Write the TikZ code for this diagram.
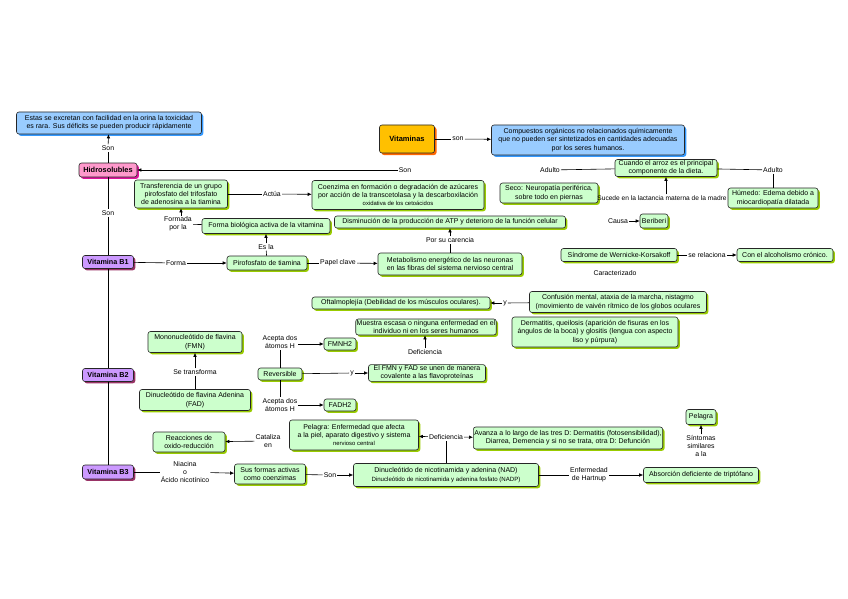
\documentclass[tikz,border=0pt]{standalone}
\usepackage{fontspec}
\setmainfont{Liberation Sans}
\usetikzlibrary{shadows,arrows.meta}
\definecolor{gfill}{HTML}{CCFFCC}
\definecolor{gshad}{HTML}{99CC00}
\definecolor{bfill}{HTML}{99CCFF}
\definecolor{bshad}{HTML}{3399FF}
\definecolor{ofill}{HTML}{FFC000}
\definecolor{oshad}{HTML}{FF6600}
\definecolor{pfill}{HTML}{FF99CC}
\definecolor{pshad}{HTML}{E0119D}
\definecolor{vfill}{HTML}{CC99FF}
\definecolor{vshad}{HTML}{993366}
\begin{document}
\begin{tikzpicture}[x=1pt,y=-1pt,
 box/.style={draw=black!85,line width=0.6pt,rounded corners=2.5pt,align=center,inner sep=1pt,font=\fontsize{7}{8.3}\selectfont},
 gbox/.style={box,fill=gfill,drop shadow={shadow xshift=1.8pt,shadow yshift=-1.8pt,fill=gshad,opacity=1}},
 bbox/.style={box,fill=bfill,drop shadow={shadow xshift=1.8pt,shadow yshift=-1.8pt,fill=bshad,opacity=1}},
 obox/.style={box,fill=ofill,font=\bfseries\fontsize{7.5}{8.5}\selectfont,drop shadow={shadow xshift=2pt,shadow yshift=-2pt,fill=oshad,opacity=1}},
 pbox/.style={box,fill=pfill,font=\bfseries\fontsize{7.4}{8.5}\selectfont,drop shadow={shadow xshift=1.8pt,shadow yshift=-1.8pt,fill=pshad,opacity=1}},
 vbox/.style={box,fill=vfill,font=\bfseries\fontsize{7.2}{8.5}\selectfont,drop shadow={shadow xshift=1.8pt,shadow yshift=-1.8pt,fill=vshad,opacity=1}},
 lbl/.style={align=center,inner sep=1pt,font=\fontsize{6.9}{7.8}\selectfont},
 arr/.style={-{Latex[length=4pt,width=3.6pt]},line width=0.6pt},
 ln/.style={line width=0.6pt},
]
\useasboundingbox (0,0) rectangle (848,599);

% main nodes
\node[bbox,minimum width=185pt,minimum height=22pt] (blue1) at (109,123) {Estas se excretan con facilidad en la orina la toxicidad\\es rara. Sus déficits se pueden producir rápidamente};
\node[pbox,minimum width=58pt,minimum height=14pt] (hidro) at (108,170) {Hidrosolubles};
\node[vbox,minimum width=51pt,minimum height=13pt] (b1) at (108,262) {Vitamina B1};
\node[vbox,minimum width=51pt,minimum height=13pt] (b2) at (108,375) {Vitamina B2};
\node[vbox,minimum width=51pt,minimum height=14pt] (b3) at (108,472) {Vitamina B3};
\node[obox,minimum width=55pt,minimum height=28pt] (vit) at (407,139) {Vitaminas};
\node[bbox,minimum width=193pt,minimum height=30pt] (comp) at (588,140) {Compuestos orgánicos no relacionados químicamente\\que no pueden ser sintetizados en cantidades adecuadas\\por los seres humanos.};
\node[gbox,minimum width=93pt,minimum height=28pt] (transf) at (181,194) {Transferencia de un grupo\\pirofosfato del trifosfato\\de adenosina a la tiamina};
\node[gbox,minimum width=172pt,minimum height=29pt] (coenz) at (398,195) {Coenzima en formación o degradación de azúcares\\por acción de la transcetolasa y la descarboxilación\\{\fontsize{5.9}{7}\selectfont oxidativa de los cetoácidos}};
\node[gbox,minimum width=128pt,minimum height=15pt] (forma) at (266,226) {Forma biológica activa de la vitamina};
\node[gbox,minimum width=80pt,minimum height=14pt] (piro) at (267,263) {Pirofosfato de tiamina};
\node[gbox,minimum width=231pt,minimum height=12pt] (dism) at (450,222) {Disminución de la producción de ATP y deterioro de la función celular};
\node[gbox,minimum width=144pt,minimum height=22pt] (metab) at (450,264) {Metabolismo energético de las neuronas\\en las fibras del sistema nervioso central};
\node[gbox,minimum width=98pt,minimum height=20pt] (seco) at (549,193) {Seco: Neuropatía periférica,\\sobre todo en piernas};
\node[gbox,minimum width=102pt,minimum height=17pt] (cuando) at (666,168) {Cuando el arroz es el principal\\componente de la dieta.};
\node[gbox,minimum width=90pt,minimum height=20pt] (humedo) at (773,198) {Húmedo: Edema debido a\\miocardiopatía dilatada};
\node[gbox,minimum width=28pt,minimum height=14pt] (beri) at (654,221) {Beriberi};
\node[gbox,minimum width=116pt,minimum height=13pt] (sindrome) at (619,255) {Síndrome de Wernicke-Korsakoff};
\node[gbox,minimum width=96pt,minimum height=13pt] (alcohol) at (785,255) {Con el alcoholismo crónico.};
\node[gbox,minimum width=178pt,minimum height=12pt] (oftal) at (401,303) {Oftalmoplejía (Debilidad de los músculos oculares).};
\node[gbox,minimum width=177pt,minimum height=21pt] (confusion) at (618,302) {Confusión mental, ataxia de la marcha, nistagmo\\(movimiento de vaivén rítmico de los globos oculares};
\node[gbox,minimum width=166pt,minimum height=30pt] (dermat) at (595,332) {Dermatitis, queilosis (aparición de fisuras en los\\ángulos de la boca) y glositis (lengua con aspecto\\liso y púrpura)};
\node[gbox,minimum width=137pt,minimum height=16pt] (muestra) at (426,327) {Muestra escasa o ninguna enfermedad en el\\individuo ni en los seres humanos};
\node[gbox,minimum width=32pt,minimum height=12pt] (fmnh2) at (340,344) {FMNH2};
\node[gbox,minimum width=32pt,minimum height=12pt] (fadh2) at (340,405) {FADH2};
\node[gbox,minimum width=44pt,minimum height=12pt] (rev) at (280,374) {Reversible};
\node[gbox,minimum width=117pt,minimum height=15pt] (fmnfad) at (427,373) {El FMN y FAD se unen de manera\\covalente a las flavoproteínas};
\node[gbox,minimum width=94pt,minimum height=21pt] (mono) at (195,342) {Mononucleótido de flavina\\(FMN)};
\node[gbox,minimum width=111pt,minimum height=21pt] (dinuc) at (195,400) {Dinucleótido de flavina Adenina\\(FAD)};
\node[gbox,minimum width=72pt,minimum height=20pt] (reac) at (189,442) {Reacciones de\\oxido-reducción};
\node[gbox,minimum width=129pt,minimum height=30pt] (pelagra) at (354,435) {Pelagra: Enfermedad que afecta\\a la piel, aparato digestivo y sistema\\{\fontsize{5.9}{7}\selectfont nervioso central}};
\node[gbox,minimum width=188pt,minimum height=22pt] (avanza) at (568,438) {Avanza a lo largo de las tres D: Dermatitis (fotosensibilidad),\\Diarrea, Demencia y si no se trata, otra D: Defunción};
\node[gbox,minimum width=71pt,minimum height=20pt] (susf) at (270,474) {Sus formas activas\\como coenzimas};
\node[gbox,minimum width=185pt,minimum height=23pt] (nad) at (446,475) {Dinucleótido de nicotinamida y adenina (NAD)\\{\fontsize{6.1}{7.2}\selectfont Dinucleótido de nicotinamida y adenina fosfato (NADP)}};
\node[gbox,minimum width=115pt,minimum height=15pt] (absor) at (701,475) {Absorción deficiente de triptófano};
\node[gbox,minimum width=30pt,minimum height=15pt] (pels) at (701,417) {Pelagra};

% labels
\node[lbl] (son1) at (108,148) {Son};
\node[lbl] (son2) at (108,213) {Son};
\node[lbl] (son3) at (405,170) {Son};
\node[lbl] (sonv) at (458,139) {son};
\node[lbl] (actua) at (272,194) {Actúa};
\node[lbl] (formada) at (178,224) {Formada\\por la};
\node[lbl] (esla) at (266,247) {Es la};
\node[lbl] (formal) at (176,263) {Forma};
\node[lbl] (papel) at (338,263) {Papel clave};
\node[lbl] (porsu) at (450,240) {Por su carencia};
\node[lbl] (adulto1) at (550,170) {Adulto};
\node[lbl] (adulto2) at (773,170) {Adulto};
\node[lbl,font=\fontsize{6.6}{7.6}\selectfont] (sucede) at (662,198) {Sucede en la lactancia materna de la madre};
\node[lbl] (causa) at (618,221) {Causa};
\node[lbl] (serel) at (707,255) {se relaciona};
\node[lbl] (caract) at (615,273) {Caracterizado};
\node[lbl] (y1) at (505,303) {y};
\node[lbl] (defb2) at (425,352) {Deficiencia};
\node[lbl] (acep1) at (280,342) {Acepta dos\\átomos H};
\node[lbl] (acep2) at (280,405) {Acepta dos\\átomos H};
\node[lbl] (y2) at (352,373) {y};
\node[lbl] (sefor) at (195,372) {Se transforma};
\node[lbl] (catal) at (268,441) {Cataliza\\en};
\node[lbl] (niac) at (185,472) {Niacina\\o\\Ácido nicotínico};
\node[lbl] (son4) at (330,475) {Son};
\node[lbl] (defb3) at (446,437) {Deficiencia};
\node[lbl] (hart) at (589,475) {Enfermedad\\de Hartnup};
\node[lbl] (sint) at (701,446) {Síntomas\\similares\\a la};

% connectors
\draw[ln] (hidro) -- (son1);
\draw[arr] (son1) -- (blue1);
\draw[ln] (hidro) -- (son2);
\draw[ln] (son2) -- (b1);
\draw[ln] (b1) -- (b2);
\draw[ln] (b2) -- (b3);
\draw[arr] (son3) -- (hidro);
\draw[ln] (vit) -- (sonv);
\draw[arr] (sonv) -- (comp);
\draw[ln] (transf) -- (actua);
\draw[arr] (actua) -- (coenz);
\draw[arr] (formada.north -| transf.south) -- (transf.south);
\draw[ln] (formada) -- (forma);
\draw[ln] (piro) -- (esla);
\draw[arr] (esla) -- (forma);
\draw[ln] (b1) -- (formal);
\draw[arr] (formal) -- (piro);
\draw[ln] (piro) -- (papel);
\draw[arr] (papel) -- (metab);
\draw[ln] (metab) -- (porsu);
\draw[arr] (porsu) -- (dism);
\draw[ln] (adulto1) -- (cuando);
\draw[ln] (cuando) -- (adulto2);
\draw[ln] (adulto2) -- (humedo);
\draw[arr] (cuando.south |- sucede.north) -- (cuando.south);
\draw[arr] (causa) -- (beri);
\draw[ln] (sindrome) -- (serel);
\draw[arr] (serel) -- (alcohol);
\draw[ln] (confusion) -- (y1);
\draw[arr] (y1) -- (oftal);
\draw[arr] (defb2.north) -- (defb2.north |- muestra.south);
\draw[ln] (rev) -- (acep1);
\draw[arr] (acep1.east |- fmnh2) -- (fmnh2);
\draw[ln] (rev) -- (acep2);
\draw[arr] (acep2.east |- fadh2) -- (fadh2);
\draw[ln] (rev) -- (y2);
\draw[arr] (y2) -- (fmnfad);
\draw[ln] (dinuc) -- (sefor);
\draw[arr] (sefor) -- (mono);
\draw[arr] (catal) -- (reac);
\draw[ln] (b3) -- (niac);
\draw[arr] (niac) -- (susf);
\draw[ln] (susf) -- (son4);
\draw[arr] (son4) -- (nad);
\draw[ln] (nad.north -| defb3) -- (defb3);
\draw[arr] (defb3) -- (pelagra);
\draw[arr] (defb3) -- (avanza);
\draw[ln] (nad) -- (hart);
\draw[arr] (hart) -- (absor);
\draw[arr] (sint) -- (pels);
\end{tikzpicture}
\end{document}
